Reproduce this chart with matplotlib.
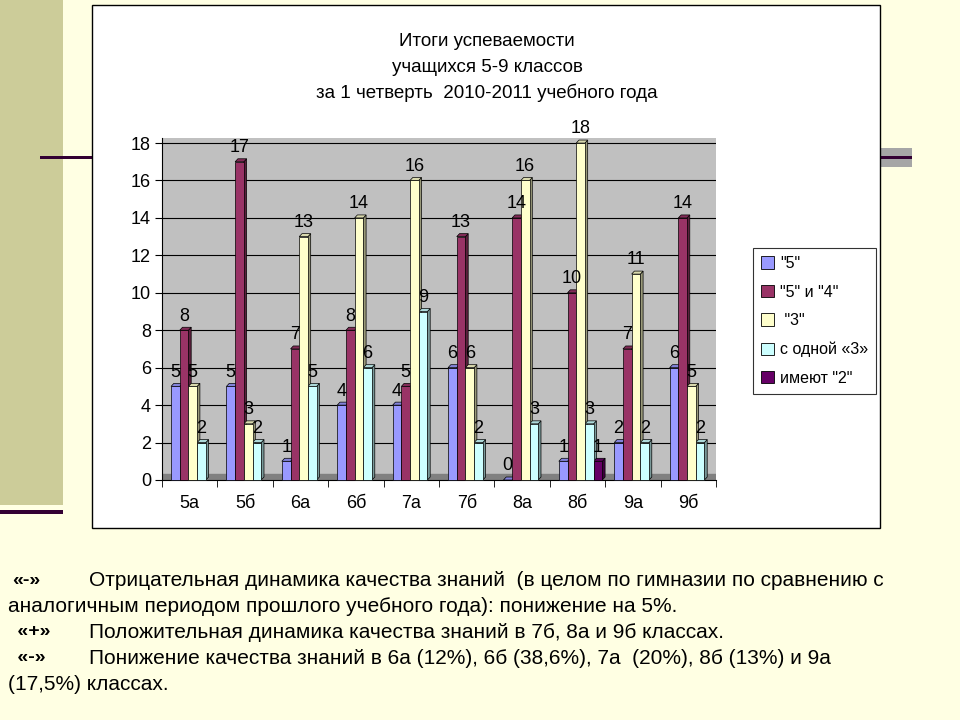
import matplotlib.pyplot as plt
from matplotlib.patches import Rectangle, Polygon, Patch
import numpy as np

# classes and series (counts of pupils)
classes = ['5а', '5б', '6а', '6б', '7а', '7б', '8а', '8б', '9а', '9б']
series_names = ['"5"', '"5" и "4"', ' "3"', 'с одной «3»', 'имеют "2"']
otl = [5, 5, 1, 4, 4, 6, 0, 1, 2, 6]
horosh = [8, 17, 7, 8, 5, 13, 14, 10, 7, 14]
troyki = [5, 3, 13, 14, 16, 6, 16, 18, 11, 5]
odna3 = [2, 2, 5, 6, 9, 2, 3, 3, 2, 2]
dvoyki = [None, None, None, None, None, None, None, 1, None, None]
colors = ['#9999FF', '#993366', '#FFFFCC', '#CCFFFF', '#660066']

title_lines = ['Итоги успеваемости', 'учащихся 5-9 классов',
               'за 1 четверть  2010-2011 учебного года']
notes = [
    ('«-»', 'Отрицательная динамика качества знаний  (в целом по гимназии по сравнению с'),
    ('', 'аналогичным периодом прошлого учебного года): понижение на 5%.'),
    (' «+»', 'Положительная динамика качества знаний в 7б, 8а и 9б классах.'),
    (' «-»', 'Понижение качества знаний в 6а (12%), 6б (38,6%), 7а  (20%), 8б (13%) и 9а'),
    ('', '(17,5%) классах.'),
]

narrow = ['Liberation Sans Narrow', 'Liberation Sans', 'DejaVu Sans']
W, H = 960, 720


def fx(x):
    return x / W


def fy(y):
    return 1 - y / H


fig = plt.figure(figsize=(9.6, 7.2), dpi=100, facecolor='#FFFFE3')


def deco(x, y, w, h, color, **kw):
    # rectangle given in pixel coords (top-left origin)
    fig.add_artist(Rectangle((fx(x), fy(y + h)), w / W, h / H, transform=fig.transFigure,
                             facecolor=color, zorder=-5, **kw))


# slide decorations
deco(0, 0, 63, 505, '#CCCC99', edgecolor='none')
deco(0, 510, 63, 4, '#330033', edgecolor='none')
deco(880, 148, 32, 19, '#A6A6A6', edgecolor='none')
deco(40, 156, 52, 2.5, '#330033', edgecolor='none')
deco(880, 156, 32, 2.5, '#330033', edgecolor='none')
# white chart box
deco(92, 5, 788, 523, 'white', edgecolor='black', linewidth=1)

# plot area (wall a bit above the 18 gridline, like the 3D original)
ax = fig.add_axes([fx(162), fy(480), fx(716 - 162), (480 - 138) / H])
ax.set_facecolor('#C0C0C0')
ax.set_xlim(-0.5, len(classes) - 0.5)
ax.set_ylim(0, 18.27)
ax.set_yticks(range(0, 19, 2))
ax.grid(axis='y', color='black', linewidth=0.8)
ax.set_axisbelow(True)
for s in ['top', 'right']:
    ax.spines[s].set_visible(False)
ax.spines['left'].set_color('black')
ax.spines['bottom'].set_color('black')
ax.axhspan(0, 0.3, color='#808080', zorder=1)

ax.set_xticks(range(len(classes)))
ax.set_xticklabels(classes, family=narrow, fontsize=13)
ax.set_xticks(np.arange(-0.5, len(classes)), minor=True)
ax.tick_params(axis='x', which='major', length=0, pad=11)
ax.tick_params(axis='x', which='minor', length=5, color='black')
ax.tick_params(axis='y', length=5, color='black', labelsize=13, pad=3)
for lab in ax.get_yticklabels():
    lab.set_family(narrow)

data = [otl, horosh, troyki, odna3, dvoyki]
bw = 0.157
dx, dy = 0.05, 0.16
x0 = np.arange(len(classes)) - 0.337
for k, vals in enumerate(data):
    v = np.array([np.nan if a is None else a for a in vals], dtype=float)
    xs = x0 + k * bw
    c = np.array(plt.matplotlib.colors.to_rgb(colors[k]))
    side = tuple(c * 0.6)
    top = tuple(c * 0.85)
    for xi, h in zip(xs, v):
        if np.isnan(h):
            continue
        ax.add_patch(Polygon([(xi + bw, 0), (xi + bw + dx, dy), (xi + bw + dx, h + dy), (xi + bw, h)],
                             closed=True, facecolor=side, edgecolor='black', linewidth=0.5,
                             zorder=3, clip_on=False))
        ax.add_patch(Polygon([(xi, h), (xi + dx, h + dy), (xi + bw + dx, h + dy), (xi + bw, h)],
                             closed=True, facecolor=top, edgecolor='black', linewidth=0.5,
                             zorder=3, clip_on=False))
        ax.text(xi + bw * 0.5, h + 0.3, '%d' % h, ha='center', va='bottom',
                fontsize=13, family=narrow, zorder=5)
    ax.bar(xs, v, width=bw, align='edge', color=colors[k], edgecolor='black',
           linewidth=0.5, zorder=4, clip_on=False)

# legend
handles = [Patch(facecolor=c, edgecolor='black', linewidth=0.6) for c in colors]
leg = fig.legend(handles, series_names, loc='upper left',
                 bbox_to_anchor=(fx(753), fy(248)), frameon=True, fancybox=False,
                 edgecolor='black', handlelength=0.8, handleheight=0.8, handletextpad=0.4,
                 labelspacing=0.85, borderpad=0.5, borderaxespad=0,
                 prop={'family': narrow, 'size': 11.5})
leg.get_frame().set_linewidth(0.8)

# title
for i, line in enumerate(title_lines):
    fig.text(fx(487), fy(42 + i * 25.5), line, ha='center', va='center',
             fontsize=13.5, family=narrow)

# notes under the chart
for i, (mark, txt) in enumerate(notes):
    y = fy(580 + i * 26)
    if mark:
        fig.text(fx(12), y, mark, ha='left', va='center', fontsize=14,
                 fontweight='bold', family='Liberation Sans')
        fig.text(fx(89), y, txt, ha='left', va='center', fontsize=15, family='Liberation Sans')
    else:
        fig.text(fx(8), y, txt, ha='left', va='center', fontsize=15, family='Liberation Sans')

fig.savefig('out.png', dpi=100, facecolor=fig.get_facecolor())
